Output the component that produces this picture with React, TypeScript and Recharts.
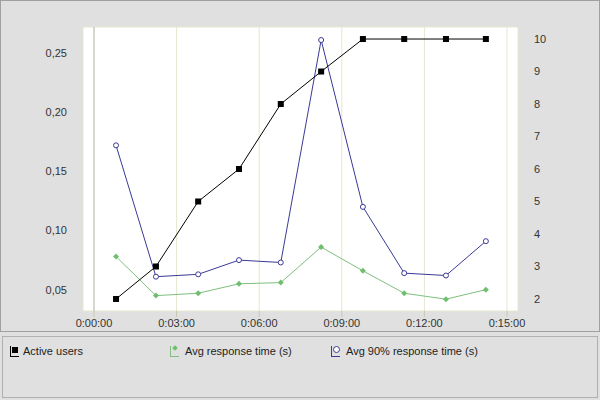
import { CartesianGrid, Line, LineChart, ReferenceLine, XAxis, YAxis } from 'recharts';

// time in seconds since start
const times = [48, 135, 227, 316, 407, 495, 586, 676, 767, 854];
const activeUsers = [2, 3, 5, 6, 8, 9, 10, 10, 10, 10];
const avgResponse = [0.078, 0.045, 0.047, 0.055, 0.056, 0.086, 0.066, 0.047, 0.042, 0.05];
const avg90Response = [0.172, 0.061, 0.063, 0.075, 0.073, 0.261, 0.12, 0.064, 0.062, 0.091];
const xTicks = [0, 180, 360, 540, 720, 900];
const leftTicks = [0.05, 0.1, 0.15, 0.2, 0.25];
const rightTicks = [2, 3, 4, 5, 6, 7, 8, 9, 10];

const data = times.map((t, i) => ({
  t,
  users: activeUsers[i],
  avg: avgResponse[i],
  p90: avg90Response[i],
}));

const fmtTime = (s: number) => {
  const m = Math.floor(s / 60);
  return `0:${String(m).padStart(2, '0')}:00`;
};

const font = '"Liberation Sans", Arial, sans-serif';
const tickStyle = { fontSize: 11, fill: '#333', fontFamily: font };

const Square = (p: any) => <rect key={p.key} x={p.cx - 3} y={p.cy - 3} width={6} height={6} fill="#000" />;
const Diamond = (p: any) => (
  <path key={p.key} d={`M${p.cx},${p.cy - 3}L${p.cx + 3},${p.cy}L${p.cx},${p.cy + 3}L${p.cx - 3},${p.cy}Z`} fill="#6fbf6f" />
);

export default function App() {
  return (
    <div style={{ position: 'absolute', left: 0, top: 0, width: 600, height: 400, background: '#e0e0e0', fontFamily: font }}>
      <div style={{ position: 'absolute', left: 0, top: 0, width: 598, height: 330, border: '1px solid #a0a0a0' }}>
        <LineChart width={598} height={330} data={data} margin={{ top: 26, right: 0, bottom: 0, left: 0 }}>
          <CartesianGrid stroke="#e6e6cf" vertical horizontal fill="#fff" />
          <XAxis
            dataKey="t"
            type="number"
            domain={[-24, 924]}
            ticks={xTicks}
            tickFormatter={fmtTime}
            tick={tickStyle}
            axisLine={false}
            tickLine={{ stroke: '#c8c8b0' }}
            tickSize={6}
            height={20}
            interval={0}
          />
          <YAxis
            yAxisId="l"
            orientation="left"
            width={82}
            domain={[0.032, 0.272]}
            ticks={leftTicks}
            tickFormatter={(v: number) => v.toFixed(2).replace('.', ',')}
            tick={tickStyle}
            axisLine={false}
            tickLine={false}
            tickMargin={10}
          />
          <YAxis
            yAxisId="r"
            orientation="right"
            width={81}
            domain={[1.63, 10.37]}
            ticks={rightTicks}
            tick={tickStyle}
            axisLine={false}
            tickLine={false}
            tickMargin={10}
          />
          <ReferenceLine yAxisId="l" x={0} stroke="#b8bcb8" />
          <Line yAxisId="l" dataKey="avg" stroke="#7fbf7f" strokeWidth={1} dot={Diamond} isAnimationActive={false} />
          <Line
            yAxisId="l"
            dataKey="p90"
            stroke="#3a3a96"
            strokeWidth={1}
            dot={{ r: 2.5, fill: '#fff', stroke: '#3a3a96', strokeWidth: 1 }}
            isAnimationActive={false}
          />
          <Line yAxisId="r" dataKey="users" stroke="#000" strokeWidth={1} dot={Square} isAnimationActive={false} />
        </LineChart>
      </div>
      <div style={{ position: 'absolute', left: 2, top: 336, width: 594, height: 60, border: '1px solid #b0b0b0', fontSize: 11, color: '#222' }}>
        <div style={{ position: 'absolute', left: 7, top: 8, display: 'flex', alignItems: 'center' }}>
          <span style={{ width: 8, height: 10, borderLeft: '1px solid #000', borderBottom: '1px solid #000', marginRight: 4, position: 'relative' }}>
            <span style={{ position: 'absolute', left: 1, top: 1, width: 6, height: 6, background: '#000' }} />
          </span>
          Active users
        </div>
        <div style={{ position: 'absolute', left: 167, top: 8, display: 'flex', alignItems: 'center' }}>
          <span style={{ width: 8, height: 10, borderLeft: '1px solid #7fbf7f', borderBottom: '1px solid #7fbf7f', marginRight: 6, position: 'relative' }}>
            <span style={{ position: 'absolute', left: 2, top: 0, width: 4, height: 4, background: '#6fbf6f', transform: 'rotate(45deg)' }} />
          </span>
          Avg response time (s)
        </div>
        <div style={{ position: 'absolute', left: 328, top: 8, display: 'flex', alignItems: 'center' }}>
          <span style={{ width: 8, height: 10, borderLeft: '1px solid #3a3a96', borderBottom: '1px solid #3a3a96', marginRight: 6, position: 'relative' }}>
            <span style={{ position: 'absolute', left: 1, top: 0, width: 5, height: 5, border: '1px solid #3a3a96', borderRadius: '50%', background: '#fff' }} />
          </span>
          Avg 90% response time (s)
        </div>
      </div>
    </div>
  );
}
